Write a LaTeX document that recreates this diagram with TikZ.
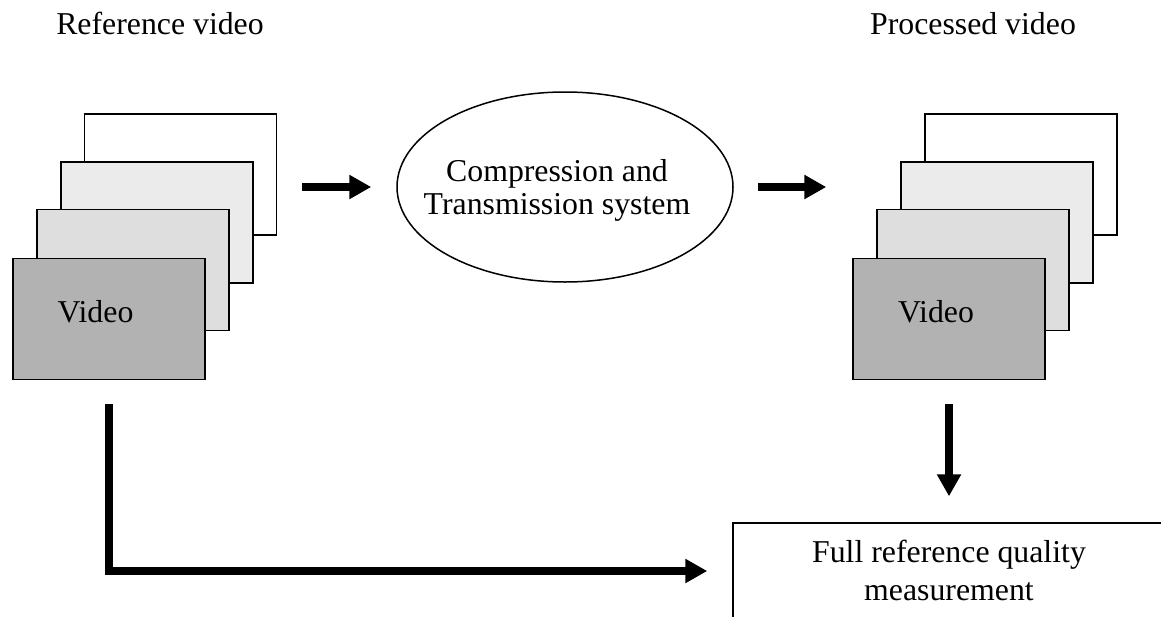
\documentclass[tikz,border=0pt]{standalone}
\usepackage{fontspec}
\setmainfont{Liberation Serif}
\usetikzlibrary{arrows.meta,shapes.geometric}

\begin{document}
\begin{tikzpicture}[x=1pt,y=-1pt,
  frame/.style={draw=black,line width=1.5pt,minimum width=192pt,minimum height=121pt,inner sep=0pt},
  lbl/.style={font=\fontsize{31.8}{38}\selectfont,inner sep=0pt,anchor=base},
  bigarrow/.style={line width=8pt,-{Triangle[length=22pt,width=23pt]}},
]
\useasboundingbox (0,0) rectangle (1161,616);
\clip (0,0) rectangle (1161,616);

% captions above the two frame stacks
\node[lbl] (reflabel) at (160,34) {Reference video};
\node[lbl] (proclabel) at (973,34) {Processed video};

% reference video: stack of frames, back to front
\node[frame,fill=white]      (backL)  at (180.5,174.5) {};
\node[frame,fill=black!8]    (midL)   at (157,222.5) {};
\node[frame,fill=black!13]   (nearL)  at (133,270) {};
\node[frame,fill=black!30]   (frontL) at (109,319) {};
\node[lbl] (vidL) at (95.5,322) {Video};

% processed video: stack of frames, back to front
\node[frame,fill=white]      (backR)  at (1021,174.5) {};
\node[frame,fill=black!8]    (midR)   at (997,222.5) {};
\node[frame,fill=black!13]   (nearR)  at (973,270) {};
\node[frame,fill=black!30]   (frontR) at (949,319) {};
\node[lbl] (vidR) at (936,322) {Video};

% compression and transmission system
\node[ellipse,draw=black,line width=1.5pt,minimum width=336pt,minimum height=190pt,inner sep=0pt] (ell) at (565,187) {};
\node[lbl] (ellA) at (557,181) {Compression and};
\node[lbl] (ellB) at (557,214) {Transmission system};

% quality measurement box
\node[draw=black,line width=1.5pt,minimum width=432pt,minimum height=96pt,inner sep=0pt] (box) at (949,571) {};
\node[lbl] (boxA) at (949,562) {Full reference quality};
\node[lbl] (boxB) at (949,600) {measurement};

% connectors
\draw[bigarrow,shorten <=25pt,shorten >=25pt] (ell.west -| backL.east) -- (ell.west);
\draw[bigarrow,shorten <=24pt,shorten >=26pt] (ell.east) -- (ell.east -| frontR.west);
\draw[bigarrow,shorten <=24pt,shorten >=26pt] (frontR.south) -- (box.north);
\draw[bigarrow,shorten <=24pt,shorten >=25pt] (frontL.south) |- (box.west);
\end{tikzpicture}
\end{document}
